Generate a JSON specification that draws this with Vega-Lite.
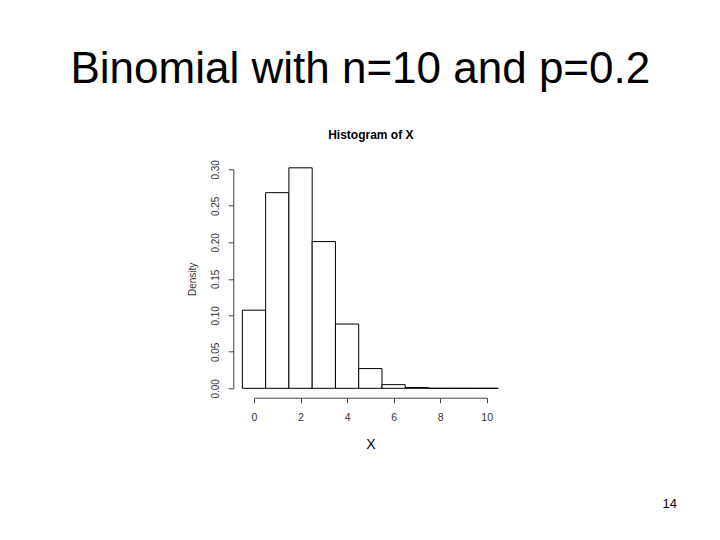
{
  "$schema": "https://vega.github.io/schema/vega-lite/v6.json",
  "width": 232.7,
  "height": 219,
  "autosize": {"type": "none"},
  "padding": {"left": 254, "top": 169.3, "right": 233.3, "bottom": 151.7},
  "background": "white",
  "config": {"font": "Liberation Sans", "view": {"stroke": null}},
  "title": {
    "text": "Binomial with n=10 and p=0.2",
    "fontSize": 44,
    "fontWeight": "normal",
    "color": "black",
    "anchor": "middle",
    "frame": "group",
    "dx": -10,
    "offset": 36
  },
  "data": {
    "values": [
      {"start": -0.5, "end": 0.5, "density": 0.107},
      {"start": 0.5, "end": 1.5, "density": 0.268},
      {"start": 1.5, "end": 2.5, "density": 0.302},
      {"start": 2.5, "end": 3.5, "density": 0.201},
      {"start": 3.5, "end": 4.5, "density": 0.088},
      {"start": 4.5, "end": 5.5, "density": 0.027},
      {"start": 5.5, "end": 6.5, "density": 0.005},
      {"start": 6.5, "end": 7.5, "density": 0.001},
      {"start": 7.5, "end": 8.5, "density": 0},
      {"start": 8.5, "end": 9.5, "density": 0},
      {"start": 9.5, "end": 10.5, "density": 0}
    ]
  },
  "layer": [
    {
      "mark": {"type": "rect", "fill": "white", "stroke": "black", "strokeWidth": 1, "clip": false},
      "encoding": {
        "x": {
          "field": "start", "type": "quantitative",
          "scale": {"domain": [0, 10], "nice": false, "zero": false},
          "axis": {
            "orient": "bottom", "values": [0, 2, 4, 6, 8, 10], "grid": false,
            "offset": 9.4, "tickSize": 5, "domainColor": "#444", "tickColor": "#444",
            "labelFontSize": 10.5, "labelColor": "#333", "labelPadding": 10, "labelFlush": false,
            "title": "X", "titleFontSize": 14, "titleFontWeight": "normal", "titleColor": "black", "titlePadding": 14
          }
        },
        "x2": {"field": "end"},
        "y": {
          "field": "density", "type": "quantitative",
          "scale": {"domain": [0, 0.3], "nice": false, "zero": true},
          "axis": {
            "orient": "left", "values": [0, 0.05, 0.1, 0.15, 0.2, 0.25, 0.3], "format": ".2f", "grid": false,
            "offset": 20.7, "tickSize": 5, "domainColor": "#444", "tickColor": "#444",
            "labelAngle": -90, "labelFontSize": 10, "labelColor": "#333", "labelPadding": 8, "labelFlush": false,
            "title": "Density", "titleFontSize": 10, "titleFontWeight": "normal", "titleColor": "#333", "titlePadding": 13
          }
        },
        "y2": {"datum": 0}
      }
    },
    {
      "mark": {"type": "rect", "opacity": 0, "clip": false},
      "encoding": {
        "x": {
          "field": "start", "type": "quantitative",
          "axis": {
            "orient": "top", "labels": false, "ticks": false, "domain": false, "grid": false,
            "title": "Histogram of X", "titleFontSize": 12, "titleFontWeight": "bold", "titleColor": "black",
            "titleY": -35.3, "titleBaseline": "middle"
          }
        },
        "x2": {"field": "end"},
        "y": {
          "field": "density", "type": "quantitative",
          "axis": {
            "orient": "right", "labels": false, "ticks": false, "domain": false, "grid": false,
            "title": "14", "titleFontSize": 13, "titleFontWeight": "normal", "titleColor": "black",
            "titleAngle": 0, "titleX": 182.6, "titleY": 334.4, "titleAlign": "center", "titleBaseline": "middle"
          }
        },
        "y2": {"datum": 0}
      }
    }
  ],
  "resolve": {"axis": {"x": "independent", "y": "independent"}}
}
